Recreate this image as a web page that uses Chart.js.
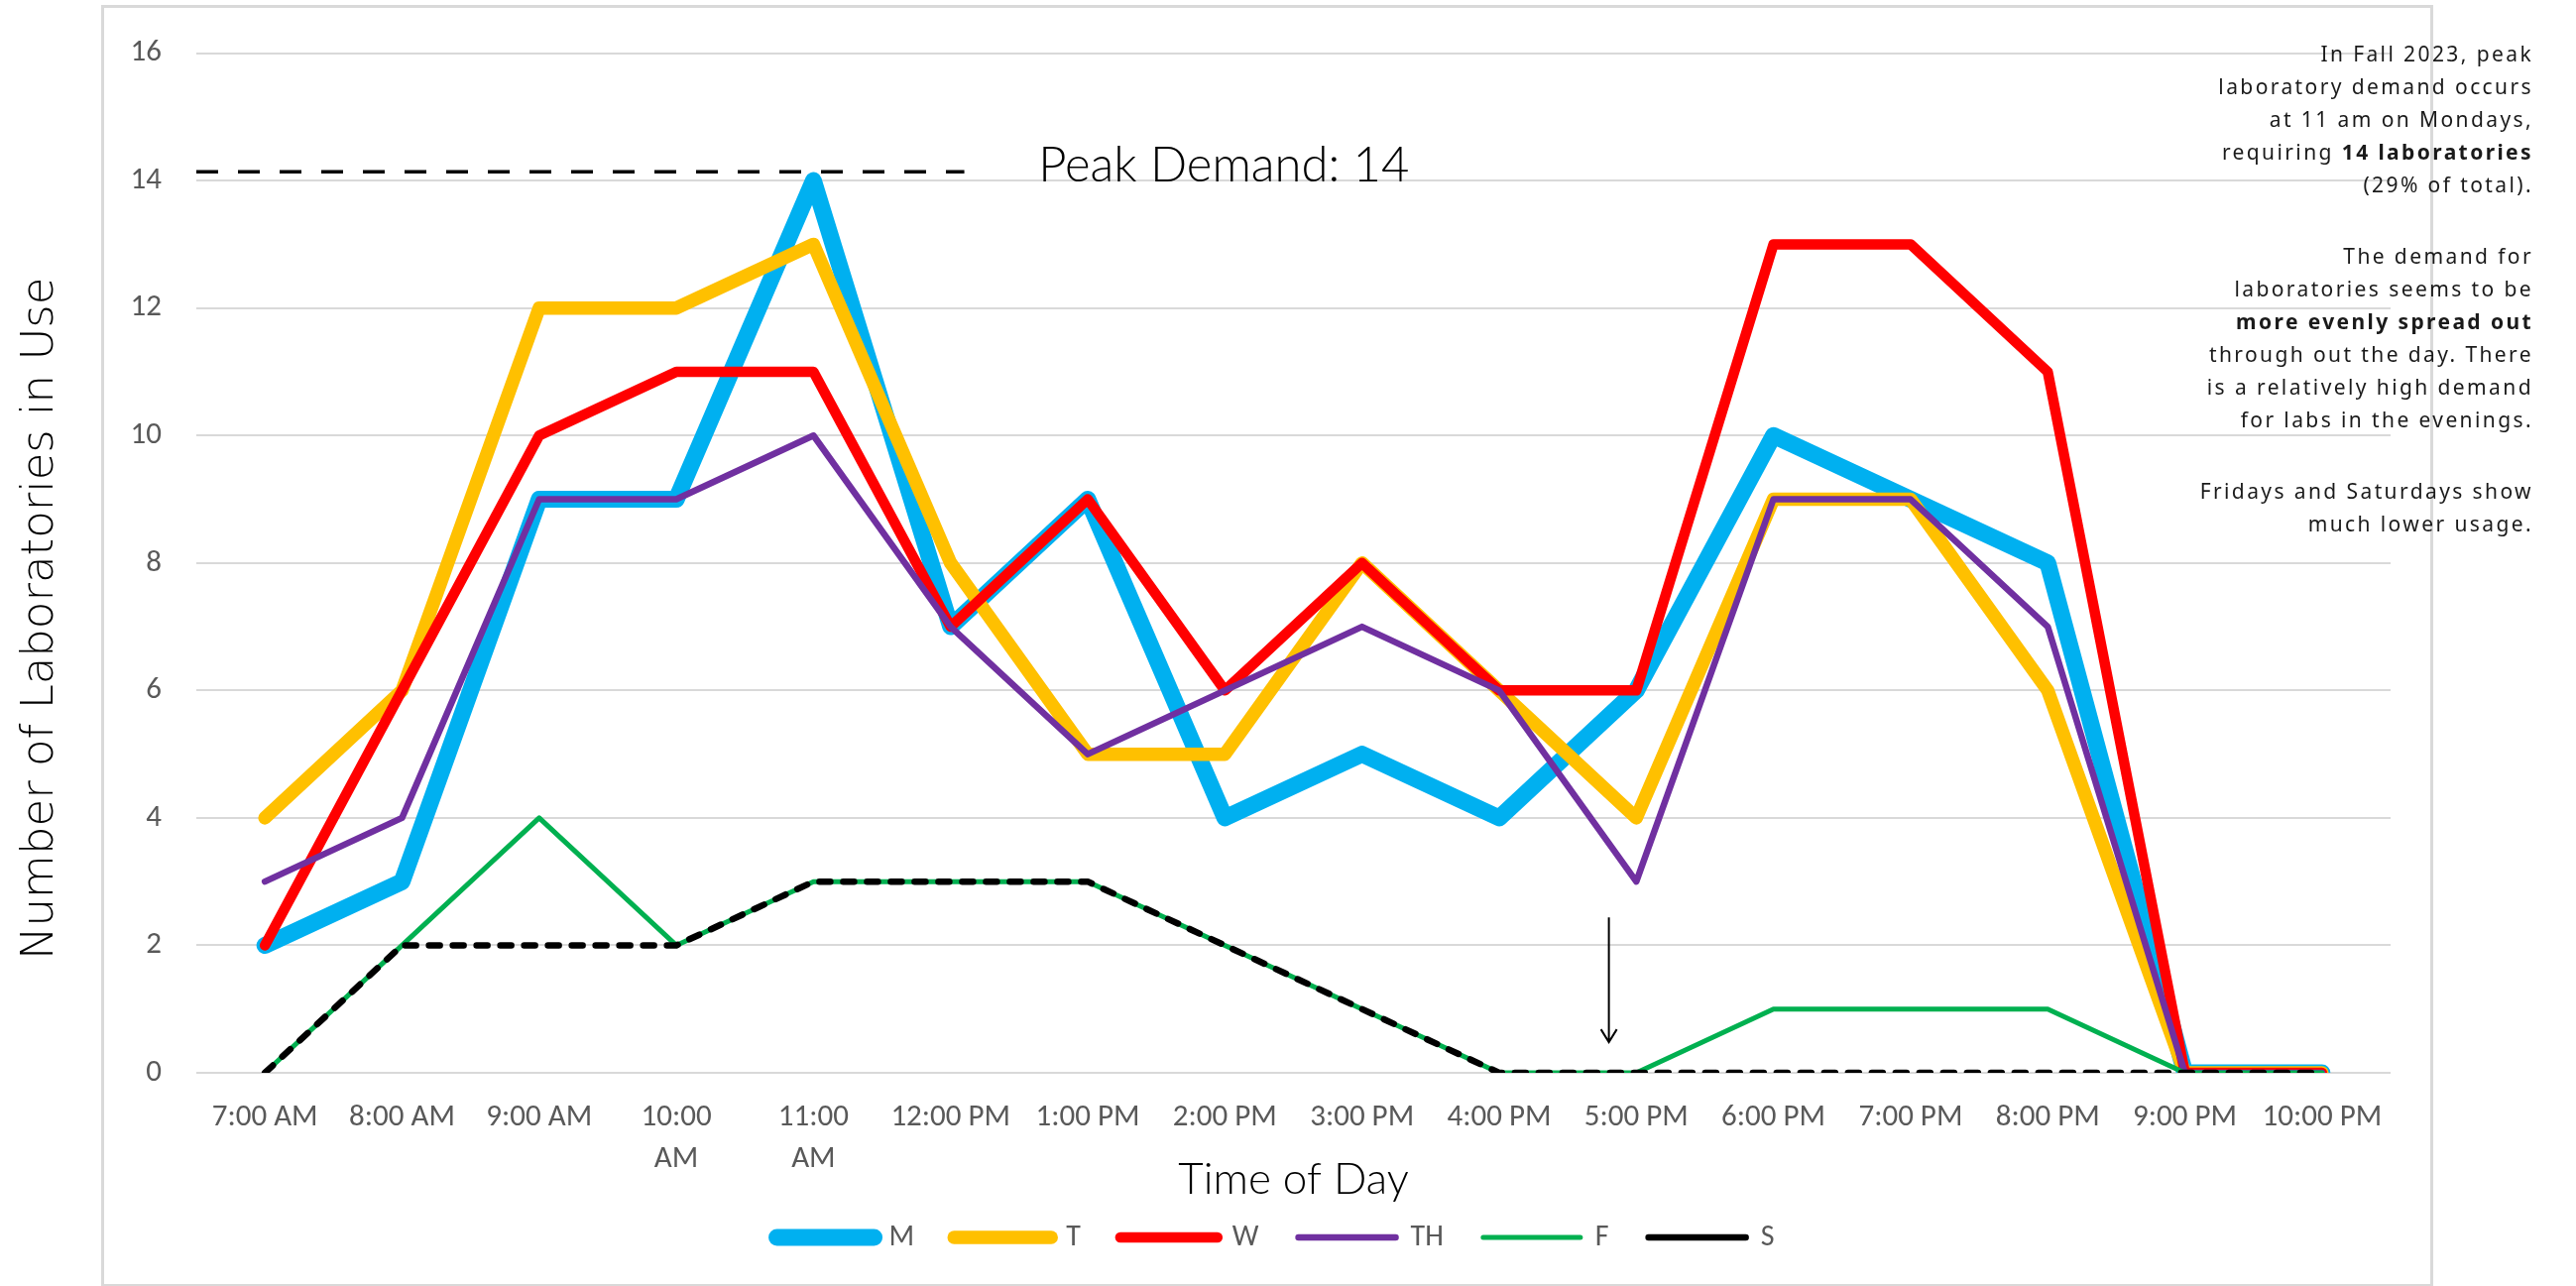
<!DOCTYPE html>
<html>
<head>
<meta charset="utf-8">
<title>Laboratory demand</title>
<script src="https://cdn.jsdelivr.net/npm/chart.js@4.4.0/dist/chart.umd.min.js"></script>
<style>
  html, body { margin: 0; padding: 0; background: #fff; overflow: hidden; }
  body { width: 2598px; height: 1297px; position: relative; }
  #frame { position: absolute; left: 102px; top: 5px; width: 2352px; height: 1293px; border: 3px solid #d9d9d9; box-sizing: border-box; }
  #wrap { position: absolute; left: 0; top: 0; width: 2598px; height: 1310px; }
  #note { position: absolute; right: 43px; top: 38px; text-align: right; font-family: "Noto Sans", sans-serif; font-size: 21px; letter-spacing: 2.4px; line-height: 33px; color: #1a1a1a; white-space: nowrap; }
  #note p { margin: 0 0 39px 0; }
</style>
</head>
<body>
<div id="frame"></div>
<div id="wrap"><canvas id="labChart"></canvas></div>
<div id="note">
  <p>In Fall 2023, peak<br>laboratory demand occurs<br>at 11 am on Mondays,<br>requiring <b>14 laboratories</b><br>(29% of total).</p>
  <p>The demand for<br>laboratories seems to be<br><b>more evenly spread out</b><br>through out the day. There<br>is a relatively high demand<br>for labs in the evenings.</p>
  <p>Fridays and Saturdays show<br>much lower usage.</p>
</div>
<script>
const hours = ["7:00 AM", "8:00 AM", "9:00 AM", ["10:00", "AM"], ["11:00", "AM"], "12:00 PM", "1:00 PM", "2:00 PM", "3:00 PM", "4:00 PM", "5:00 PM", "6:00 PM", "7:00 PM", "8:00 PM", "9:00 PM", "10:00 PM"];
const mon = [2, 3, 9, 9, 14, 7, 9, 4, 5, 4, 6, 10, 9, 8, 0, 0];
const tue = [4, 6, 12, 12, 13, 8, 5, 5, 8, 6, 4, 9, 9, 6, 0, 0];
const wed = [2, 6, 10, 11, 11, 7, 9, 6, 8, 6, 6, 13, 13, 11, 0, 0];
const thu = [3, 4, 9, 9, 10, 7, 5, 6, 7, 6, 3, 9, 9, 7, 0, 0];
const fri = [0, 2, 4, 2, 3, 3, 3, 2, 1, 0, 0, 1, 1, 1, 0, 0];
const sat = [0, 2, 2, 2, 3, 3, 3, 2, 1, 0, 0, 0, 0, 0, 0, 0];
const yMax = 16;
const yStep = 2;
const peakDemand = Math.max(...mon);
const yTitle = "Number of Laboratories in Use";

const tickFont = "Carlito, Lato, sans-serif";

function series(label, data, color, width, order, dash) {
  return {
    label: label,
    data: data,
    borderColor: color,
    backgroundColor: color,
    borderWidth: width,
    borderDash: dash || [],
    borderCapStyle: "round",
    borderJoinStyle: "round",
    pointRadius: 0,
    pointHoverRadius: 0,
    fill: false,
    tension: 0,
    order: order,
  };
}

// y title, dashed peak line, its label and the arrow at 5 PM
const notes = {
  id: "notes",
  afterLayout(chart) {
    // legend sits a little left of the plot centre in the original
    chart.legend.left -= 18;
    chart.legend.right -= 18;
  },
  afterDatasetsDraw(chart) {
    const { ctx, chartArea } = chart;
    const x = chart.scales.x;
    const y = chart.scales.y;
    ctx.save();

    // axis title sits a bit below the middle of the axis, like the original
    ctx.save();
    ctx.translate(41, (chartArea.top + chartArea.bottom) / 2 + 56);
    ctx.rotate(-Math.PI / 2);
    ctx.fillStyle = "#000";
    ctx.font = "300 45px 'DejaVu Sans', sans-serif";
    ctx.textAlign = "center";
    ctx.textBaseline = "middle";
    ctx.fillText(yTitle, 0, 0);
    ctx.restore();

    const py = y.getPixelForValue(peakDemand) - 9;
    ctx.strokeStyle = "#000";
    ctx.lineWidth = 3.5;
    ctx.setLineDash([22, 20]);
    ctx.beginPath();
    ctx.moveTo(chartArea.left, py);
    ctx.lineTo(x.getPixelForValue(5.1), py);
    ctx.stroke();

    ctx.setLineDash([]);
    ctx.fillStyle = "#000";
    ctx.font = "300 49px Lato, sans-serif";
    ctx.textBaseline = "alphabetic";
    ctx.textAlign = "left";
    ctx.fillText("Peak Demand: " + peakDemand, x.getPixelForValue(5.64), y.getPixelForValue(peakDemand) + 1);

    const ax = x.getPixelForValue(9.8);
    const top = y.getPixelForValue(2.44);
    const tip = y.getPixelForValue(0.48);
    ctx.lineWidth = 2;
    ctx.beginPath();
    ctx.moveTo(ax, top);
    ctx.lineTo(ax, tip);
    ctx.moveTo(ax - 8, tip - 13);
    ctx.lineTo(ax, tip);
    ctx.lineTo(ax + 8, tip - 13);
    ctx.stroke();
    ctx.restore();
  },
};

const ctx = document.getElementById("labChart").getContext("2d");
const labChart = new Chart(ctx, {
  type: "line",
  data: {
    labels: hours,
    datasets: [
      series("M", mon, "#00B0F0", 17, 6),
      series("T", tue, "#FFC000", 13.5, 5),
      series("W", wed, "#FF0000", 10.5, 4),
      series("TH", thu, "#7030A0", 6.5, 3),
      series("F", fri, "#00B050", 5, 2),
      series("S", sat, "#000000", 6.5, 1, [11, 13]),
    ],
  },
  options: {
    responsive: true,
    maintainAspectRatio: false,
    animation: false,
    layout: { padding: { top: 50, right: 187, bottom: 37, left: 0 } },
    scales: {
      x: {
        offset: true,
        afterFit: (scale) => { scale.height = 111; },
        grid: { display: false, drawTicks: false },
        border: { display: false },
        ticks: {
          autoSkip: false,
          maxRotation: 0,
          padding: 24,
          color: "#595959",
          font: { family: tickFont, size: 31, lineHeight: 1.35 },
        },
        title: {
          display: true,
          text: "Time of Day",
          color: "#000",
          padding: { top: 0, bottom: 0 },
          font: { family: "Lato, sans-serif", size: 44, weight: "300", lineHeight: "6px" },
        },
      },
      y: {
        min: 0,
        max: yMax,
        afterFit: (scale) => { scale.width = 198; },
        grid: { color: "#d9d9d9", lineWidth: 2, drawTicks: false },
        border: { display: false },
        ticks: {
          stepSize: yStep,
          padding: 35,
          color: "#595959",
          font: { family: tickFont, size: 31 },
        },
      },
    },
    plugins: {
      tooltip: { enabled: false },
      legend: {
        position: "bottom",
        fullSize: false,
        labels: {
          usePointStyle: true,
          pointStyle: "line",
          pointStyleWidth: 98,
          padding: 40,
          color: "#595959",
          font: { family: tickFont, size: 30 },
          generateLabels(chart) {
            const items = Chart.defaults.plugins.legend.labels.generateLabels(chart);
            items.forEach((it) => { it.lineCap = "round"; });
            return items.sort((a, b) => a.datasetIndex - b.datasetIndex);
          },
        },
      },
    },
  },
  plugins: [notes],
});
</script>
</body>
</html>
